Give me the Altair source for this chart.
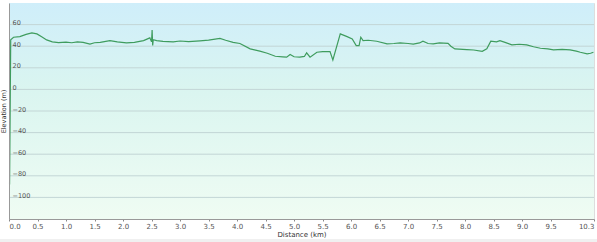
import altair as alt
import pandas as pd

dist = [0.01, 0.03, 0.08, 0.19, 0.30, 0.40, 0.49, 0.58, 0.66, 0.76, 0.87, 1.0, 1.1, 1.2, 1.3, 1.42,
        1.5, 1.6, 1.77, 1.9, 2.06, 2.2, 2.36, 2.47, 2.50, 2.51, 2.52, 2.53, 2.59, 2.7, 2.88, 3.0,
        3.15, 3.35, 3.5, 3.70, 3.8, 3.93, 4.05, 4.23, 4.4, 4.53, 4.67, 4.80, 4.87, 4.93, 5.0, 5.1,
        5.18, 5.22, 5.28, 5.4, 5.5, 5.63, 5.68, 5.81, 5.93, 6.02, 6.09, 6.14, 6.17, 6.21, 6.3, 6.45,
        6.63, 6.75, 6.86, 7.0, 7.09, 7.2, 7.26, 7.35, 7.44, 7.55, 7.70, 7.75, 7.82, 8.03, 8.15, 8.30,
        8.38, 8.45, 8.55, 8.61, 8.7, 8.82, 8.95, 9.08, 9.2, 9.32, 9.45, 9.55, 9.7, 9.84, 9.95, 10.02,
        10.14, 10.20, 10.25]
elev = [-88, 46, 48.3, 48.9, 51, 52.3, 51.4, 48.5, 45.8, 44, 43.3, 43.8, 43.2, 44, 43.5, 42,
        43.2, 43.5, 45.2, 44, 43, 43.5, 45.2, 47.7, 44, 55, 40.6, 46, 45.2, 44.5, 44, 44.8,
        44.3, 45, 45.6, 47.3, 45.5, 43.6, 42.5, 37.5, 35.5, 33.5, 30.7, 30.2, 29.8, 32.3, 30.2, 29.8,
        30.5, 33.8, 29.8, 34.4, 35, 35, 27.3, 51.4, 48.9, 46.8, 40.6, 40.6, 48.3, 45.2, 45.5, 44.6,
        42.1, 42.5, 43, 42.5, 42, 43, 44.6, 42.5, 42.1, 43, 42.7, 40, 37.5, 36.9, 36.5, 35.3,
        37.5, 44.6, 44, 45.2, 43.5, 41.2, 41.8, 41.2, 39.5, 38.1, 37.5, 36.6, 37, 36.6, 35.5, 34.4,
        32.9, 33.5, 34.4]

x_ticks = [0, 0.5, 1, 1.5, 2, 2.5, 3, 3.5, 4, 4.5, 5, 5.5, 6, 6.5, 7, 7.5, 8, 8.5, 9, 9.5, 10.26]
y_ticks = [-100, -80, -60, -40, -20, 0, 20, 40, 60]
x_max = 10.26

W, H = 585, 216
df = pd.DataFrame({"d": dist, "e": elev})
grid_df = pd.DataFrame({"g": y_ticks})
one = pd.DataFrame({"a": [0]})

xscale = alt.Scale(domain=[0, x_max], nice=False, zero=False)
yscale = alt.Scale(domain=[-120, 80], nice=False, zero=False)

yaxis = alt.Axis(values=y_ticks, title="Elevation (m)", grid=False,
                 ticks=False, labelAlign="left", labelPadding=-3, labelBaseline="alphabetic",
                 labelFontSize=6.5, labelColor="#555", domainColor="#999", labelOverlap=False,
                 labelBound=False, titleFontSize=6.5, titleFontWeight="normal", titleColor="#333",
                 titleX=-6, titleY=H / 2, titleAlign="center", titleBaseline="middle",
                 labelFont="DejaVu Sans", titleFont="DejaVu Sans", zindex=1)

bg = alt.Chart(one).mark_rect(
    fill=alt.Gradient(gradient="linear", x1=0, x2=0, y1=0, y2=1,
                      stops=[alt.GradientStop(color="#cfeefa", offset=0),
                             alt.GradientStop(color="#daf5f0", offset=0.4),
                             alt.GradientStop(color="#effcf3", offset=1)])
).encode(x=alt.value(0), x2=alt.value(W), y=alt.value(0), y2=alt.value(H))

band = alt.Chart(one).mark_rect(fill="#f0f0f0", clip=False).encode(
    x=alt.value(-9), x2=alt.value(W + 3), y=alt.value(236), y2=alt.value(240))

grid = alt.Chart(grid_df).mark_rule(color="#c3d6d6", strokeWidth=1).encode(
    y=alt.Y("g:Q", scale=yscale, axis=yaxis), x=alt.value(0), x2=alt.value(W))

line = alt.Chart(df).mark_line(color="#3f9c5e", strokeWidth=1.2).encode(
    x=alt.X("d:Q", scale=xscale,
            axis=alt.Axis(values=x_ticks, format=".1f", title="Distance  (km)", grid=False,
                          labelFlush=True, tickSize=2, tickColor="#888", domainColor="#999",
                          labelFontSize=7, labelColor="#555", labelPadding=1, labelOverlap=False,
                          titleFontSize=7, titleFontWeight="normal", titleColor="#333",
                          titlePadding=1, labelFont="DejaVu Sans", titleFont="DejaVu Sans",
                          zindex=1)),
    y=alt.Y("e:Q", scale=yscale, axis=yaxis),
)

chart = alt.layer(bg, band, grid, line).properties(
    width=W, height=H,
    autosize=alt.AutoSizeParams(type="none"),
    padding={"left": 9, "top": 3, "right": 3, "bottom": 23},
).configure_view(stroke="#d0d0d0").configure(background="white")

chart.save("out.html", embed_options={"renderer": "svg", "actions": False})
